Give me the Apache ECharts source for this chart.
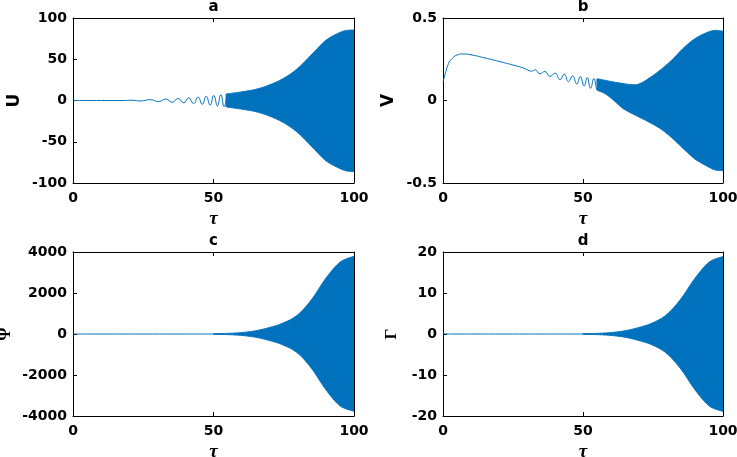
<!DOCTYPE html>
<html>
<head>
<meta charset="utf-8" />
<script src="https://cdn.jsdelivr.net/npm/echarts@6/dist/echarts.min.js"></script>
<style>
  * { margin: 0; padding: 0; }
  body { background: #fff; }
  #main { width: 737px; height: 457px; }
</style>
</head>
<body>
<div id="main"></div>
<script>
// x ticks shared by all panels
var tauTicks = [0, 50, 100];

// panel a : U
var aTrace = [[0,0],[18,0],[21,0.3],[24,-0.6],[27.5,1.0],[30.5,-1.3],[33,1.7],[35.3,-2.1],[37.4,2.5],[39.4,-2.9],[41.2,3.3],[42.9,-3.7],[44.5,4.1],[46,-4.6],[47.4,5.1],[48.8,-5.6],[50.1,6.1],[51.4,-6.6],[52.6,7.1],[53.8,-7.6],[55,8.1],[56.1,-8.6]];
var aEnvT  = [54.5, 57, 60, 65, 70, 75, 80, 85, 90, 95, 97.5, 100];
var aUpper = [7.8, 9, 10.5, 13.5, 19, 27, 39, 56, 73, 82.5, 85, 85.5];
var aLower = [-7.8, -9, -10.5, -13.5, -19, -27, -39, -56, -73, -82.5, -85.5, -86];

// panel b : V
var bTrace = [[0,0.11],[1,0.175],[2,0.225],[3,0.25],[5,0.276],[7,0.282],[10,0.277],[15,0.258],[20,0.237],[25,0.215],[28.7,0.197],[31.7,0.178],[32.9,0.186],[34.6,0.162],[36.4,0.176],[38.2,0.146],[40,0.166],[41.8,0.126],[43.3,0.16],[44.8,0.114],[46.3,0.149],[47.8,0.1],[49,0.145],[50.4,0.088],[51.5,0.139],[52.7,0.074],[53.9,0.134],[55.1,0.064],[56.2,0.128]];
var bEnvT  = [55, 58, 61, 64, 67, 70, 74, 78, 82, 86, 90, 94, 97, 100];
var bUpper = [0.132, 0.122, 0.112, 0.104, 0.097, 0.1, 0.14, 0.19, 0.25, 0.32, 0.375, 0.41, 0.425, 0.42];
var bLower = [0.062, 0.04, 0.0, -0.045, -0.075, -0.1, -0.135, -0.175, -0.23, -0.295, -0.355, -0.395, -0.42, -0.425];

// panel c : Psi
var cTrace = [[0,0],[52,0]];
var cEnvT  = [50, 55, 60, 65, 70, 75, 80, 85, 90, 95, 100];
var cUpper = [15, 30, 70, 160, 320, 550, 940, 1700, 2720, 3500, 3790];
var cLower = [-15, -30, -70, -160, -320, -550, -940, -1700, -2720, -3500, -3770];

// panel d : Gamma
var dTrace = [[0,0.05],[3,0],[52,0]];
var dEnvT  = [50, 55, 60, 65, 70, 75, 80, 85, 90, 95, 100];
var dUpper = [0.08, 0.15, 0.35, 0.8, 1.6, 2.75, 4.8, 8.6, 13.6, 17.5, 18.9];
var dLower = [-0.08, -0.15, -0.35, -0.8, -1.6, -2.75, -4.8, -8.6, -13.6, -17.5, -18.9];

var blue = '#0072BD';
var tickFont = { fontFamily: 'DejaVu Sans', fontWeight: 'bold', fontSize: 14, color: '#000' };

var panels = [
  { title: 'a', name: 'U', min: -100, max: 100, step: 50, gap: 50, nameFont: 'DejaVu Sans',
    trace: aTrace, t: aEnvT, up: aUpper, lo: aLower, grid: { left: 73, top: 18, width: 281, height: 165 } },
  { title: 'b', name: 'V', min: -0.5, max: 0.5, step: 0.5, gap: 46, nameFont: 'DejaVu Sans',
    trace: bTrace, t: bEnvT, up: bUpper, lo: bLower, grid: { left: 443, top: 18, width: 280, height: 165 } },
  { title: 'c', name: 'Ψ', min: -4000, max: 4000, step: 2000, gap: 59, nameFont: 'Liberation Serif',
    trace: cTrace, t: cEnvT, up: cUpper, lo: cLower, grid: { left: 73, top: 252, width: 281, height: 164 } },
  { title: 'd', name: 'Γ', min: -20, max: 20, step: 10, gap: 43, nameFont: 'Liberation Serif',
    trace: dTrace, t: dEnvT, up: dUpper, lo: dLower, grid: { left: 443, top: 252, width: 280, height: 164 } }
];

var grids = [], xAxes = [], yAxes = [], series = [], titles = [];
var line = { show: true, onZero: false, lineStyle: { color: '#000', width: 1 } };
var tick = { show: true, inside: true, length: 4, lineStyle: { color: '#000' } };

// catmull-rom through pixel points, sampled for drawing
function spline(pts) {
  var out = [];
  for (var i = 0; i < pts.length - 1; i++) {
    var p0 = pts[i - 1] || pts[i], p1 = pts[i], p2 = pts[i + 1], p3 = pts[i + 2] || pts[i + 1];
    for (var s = 0; s < 10; s++) {
      var t = s / 10, t2 = t * t, t3 = t2 * t;
      out.push([0, 1].map(function (d) {
        return 0.5 * (2 * p1[d] + (-p0[d] + p2[d]) * t + (2 * p0[d] - 5 * p1[d] + 4 * p2[d] - p3[d]) * t2 + (-p0[d] + 3 * p1[d] - 3 * p2[d] + p3[d]) * t3);
      }));
    }
  }
  out.push(pts[pts.length - 1]);
  return out;
}

// filled envelope of the dense oscillation, drawn through the axes' coords
function bandRenderer(p) {
  return function (params, api) {
    if (params.dataIndex !== 0) return;
    var up = [], lo = [];
    for (var k = 0; k < p.t.length; k++) {
      up.push(api.coord([p.t[k], p.up[k]]));
      lo.push(api.coord([p.t[k], p.lo[k]]));
    }
    var pts = spline(up).concat(spline(lo).reverse());
    return {
      type: 'polygon',
      shape: { points: pts },
      style: { fill: blue, stroke: blue, lineWidth: 1 }
    };
  };
}

panels.forEach(function (p, i) {
  grids.push(Object.assign({ outerBoundsMode: 'none', containLabel: false }, p.grid));
  titles.push({
    text: p.title, left: p.grid.left + p.grid.width / 2, top: p.grid.top - 18,
    textAlign: 'center', padding: 0,
    textStyle: { fontFamily: 'DejaVu Sans', fontWeight: 'bold', fontSize: 15, color: '#000' }
  });
  xAxes.push({
    type: 'value', gridIndex: i, min: tauTicks[0], max: tauTicks[2], interval: 50,
    axisLine: line, axisTick: tick, splitLine: { show: false },
    axisLabel: Object.assign({ margin: 8 }, tickFont),
    name: 'τ', nameLocation: 'middle', nameGap: 27,
    nameTextStyle: { fontFamily: 'Liberation Serif', fontStyle: 'italic', fontWeight: 'bold', fontSize: 19, color: '#000' }
  });
  xAxes.push({
    type: 'value', gridIndex: i, position: 'top', min: 0, max: 100, interval: 50,
    axisLine: line, axisTick: tick, axisLabel: { show: false }, splitLine: { show: false }
  });
  yAxes.push({
    type: 'value', gridIndex: i, min: p.min, max: p.max, interval: p.step,
    axisLine: line, axisTick: tick, splitLine: { show: false },
    axisLabel: Object.assign({ margin: 6, formatter: function (v) { return String(v); } }, tickFont),
    name: p.name, nameLocation: 'middle', nameGap: p.gap,
    nameTextStyle: { fontFamily: p.nameFont, fontWeight: 'bold', fontSize: 17, color: '#000' }
  });
  yAxes.push({
    type: 'value', gridIndex: i, position: 'right', min: p.min, max: p.max, interval: p.step,
    axisLine: line, axisTick: tick, axisLabel: { show: false }, splitLine: { show: false }
  });

  // early oscillations, read peak by peak
  series.push({
    type: 'line', xAxisIndex: 2 * i, yAxisIndex: 2 * i, data: p.trace,
    smooth: 0.5, symbol: 'none', lineStyle: { color: blue, width: 1 }
  });
  // dense part: band between lower and upper envelope
  var rows = [];
  for (var k = 0; k < p.t.length; k++) rows.push([p.t[k], p.lo[k], p.up[k]]);
  series.push({
    type: 'custom', xAxisIndex: 2 * i, yAxisIndex: 2 * i, data: rows,
    encode: { x: 0, y: [1, 2] }, clip: true, renderItem: bandRenderer(p)
  });
});

var chart = echarts.init(document.getElementById('main'));
chart.setOption({
  animation: false,
  title: titles,
  grid: grids,
  xAxis: xAxes,
  yAxis: yAxes,
  series: series
});
</script>
</body>
</html>
